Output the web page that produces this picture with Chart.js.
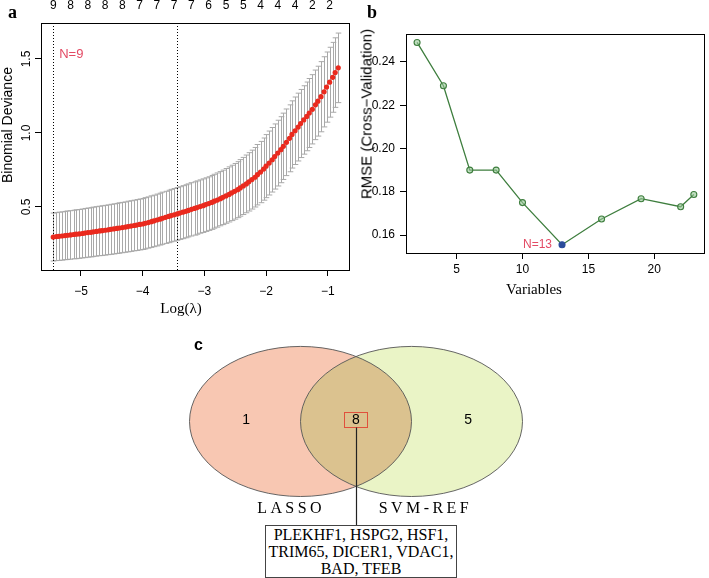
<!DOCTYPE html>
<html>
<head>
<meta charset="utf-8">
<script src="https://cdn.jsdelivr.net/npm/chart.js@4.4.1/dist/chart.umd.min.js"></script>
<style>
  html,body{margin:0;padding:0;background:#fff;}
  #wrap{position:relative;width:709px;height:578px;overflow:hidden;background:#fff;}
  canvas{position:absolute;}
  .t{position:absolute;white-space:nowrap;color:#000;}
  .sans{font-family:"Liberation Sans",Arial,sans-serif;}
  .serif{font-family:"Liberation Serif","Times New Roman",serif;}
</style>
</head>
<body>
<div id="wrap">
  <canvas id="ca" width="356" height="320" style="left:0;top:0"></canvas>
  <canvas id="cb" width="349" height="320" style="left:360px;top:0"></canvas>
  <canvas id="cc" width="444" height="258" style="left:134px;top:320px"></canvas>

  <div class="t serif" style="left:8px;top:3px;font-size:18px;line-height:18px;font-weight:bold">a</div>
  <div class="t serif" style="left:367px;top:3px;font-size:18px;line-height:18px;font-weight:bold">b</div>
  <div class="t sans" style="left:194px;top:337px;font-size:16px;line-height:16px;font-weight:bold">c</div>

  <div class="t sans" style="left:7px;top:125px;font-size:14px;transform:translate(-50%,-50%) rotate(-90deg)">Binomial Deviance</div>
  <div class="t serif" style="left:181px;top:308px;font-size:15px;transform:translate(-50%,-50%)">Log(λ)</div>
  <div class="t sans" style="left:366px;top:114px;font-size:15px;transform:translate(-50%,-50%) rotate(-90deg)">RMSE (Cross−Validation)</div>
  <div class="t serif" style="left:534px;top:289px;font-size:15px;transform:translate(-50%,-50%)">Variables</div>

  <div id="genebox" class="serif" style="position:absolute;left:265px;top:525px;width:192px;height:53px;box-sizing:border-box;border:1px solid #444;background:#fff;font-size:16px;line-height:17px;text-align:center;color:#000;"></div>
</div>
<script>
// ---------------- Panel a: LASSO cross-validation ----------------
const aLogLambda = [-5.45,-5.40,-5.36,-5.31,-5.26,-5.22,-5.17,-5.12,-5.08,-5.03,
  -4.98,-4.94,-4.89,-4.84,-4.80,-4.75,-4.70,-4.66,-4.61,-4.56,
  -4.52,-4.47,-4.42,-4.38,-4.33,-4.28,-4.24,-4.19,-4.14,-4.10,
  -4.05,-4.00,-3.96,-3.91,-3.86,-3.82,-3.77,-3.72,-3.68,-3.63,
  -3.58,-3.54,-3.49,-3.44,-3.40,-3.35,-3.30,-3.26,-3.21,-3.16,
  -3.12,-3.07,-3.02,-2.98,-2.93,-2.88,-2.84,-2.79,-2.74,-2.70,
  -2.65,-2.60,-2.56,-2.51,-2.46,-2.42,-2.37,-2.32,-2.28,-2.23,
  -2.18,-2.14,-2.09,-2.04,-2.00,-1.95,-1.90,-1.86,-1.81,-1.76,
  -1.72,-1.67,-1.62,-1.58,-1.53,-1.48,-1.44,-1.39,-1.34,-1.30,
  -1.25,-1.20,-1.16,-1.11,-1.06,-1.02,-0.97,-0.92,-0.88,-0.83];
const aCvMean = [0.297,0.300,0.302,0.304,0.307,0.309,0.311,0.314,0.316,0.318,
  0.321,0.324,0.327,0.329,0.332,0.335,0.338,0.340,0.343,0.346,
  0.349,0.352,0.355,0.358,0.361,0.364,0.368,0.371,0.375,0.378,
  0.382,0.385,0.390,0.395,0.401,0.406,0.412,0.418,0.424,0.430,
  0.436,0.442,0.447,0.453,0.459,0.465,0.471,0.477,0.484,0.490,
  0.496,0.503,0.509,0.516,0.523,0.531,0.539,0.547,0.556,0.565,
  0.575,0.585,0.595,0.606,0.617,0.629,0.642,0.656,0.670,0.685,
  0.701,0.718,0.736,0.756,0.776,0.797,0.819,0.841,0.864,0.887,
  0.910,0.937,0.964,0.990,1.015,1.040,1.064,1.088,1.112,1.135,
  1.160,1.190,1.215,1.245,1.278,1.310,1.343,1.376,1.408,1.440];
const aCvSd = [0.162,0.162,0.163,0.163,0.163,0.164,0.164,0.164,0.165,0.165,
  0.165,0.166,0.166,0.166,0.167,0.167,0.167,0.168,0.168,0.168,
  0.169,0.169,0.169,0.170,0.170,0.170,0.171,0.171,0.171,0.172,
  0.172,0.172,0.173,0.173,0.174,0.174,0.175,0.175,0.176,0.176,
  0.177,0.177,0.178,0.178,0.178,0.179,0.179,0.179,0.180,0.180,
  0.180,0.180,0.181,0.181,0.181,0.182,0.182,0.183,0.183,0.184,
  0.185,0.186,0.187,0.188,0.189,0.191,0.193,0.195,0.197,0.199,
  0.201,0.204,0.207,0.210,0.213,0.216,0.218,0.220,0.222,0.223,
  0.224,0.225,0.226,0.227,0.228,0.229,0.230,0.231,0.232,0.233,
  0.234,0.235,0.236,0.237,0.237,0.237,0.236,0.236,0.235,0.235];
const aTopPos = [-5.45,-5.17,-4.89,-4.61,-4.33,-4.05,-3.77,-3.49,-3.21,-2.93,-2.65,-2.37,-2.09,-1.81,-1.53,-1.25,-0.97];
const aTopLabels = ['9','8','8','8','8','7','7','7','7','6','5','5','4','4','4','2','2'];
const aXTicks = [-5,-4,-3,-2,-1];
const aYTicks = [0.5,1.0,1.5];
const aLambdaLines = [-5.45,-3.44];
const aNLabel = 'N=9';

// ---------------- Panel b: SVM-RFE ----------------
const bVars = [2,4,6,8,10,13,16,19,22,23];
const bRmse = [0.249,0.229,0.190,0.190,0.175,0.1555,0.1674,0.1768,0.1731,0.1787];
const bXTicks = [5,10,15,20];
const bYTicks = [0.16,0.18,0.20,0.22,0.24];
const bBest = 13;
const bNLabel = 'N=13';

// ---------------- Panel c: Venn ----------------
const vennSets = ['LASSO','SVM-REF'];
const vennCounts = [1,8,5];   // LASSO only, both, SVM-REF only
const vennGenes = ['PLEKHF1','HSPG2','HSF1','TRIM65','DICER1','VDAC1','BAD','TFEB'];

const SANS = '"Liberation Sans", Arial, sans-serif';
const SERIF = '"Liberation Serif", "Times New Roman", serif';
Chart.defaults.font.family = SANS;
Chart.defaults.color = '#000';

const minus = v => String(v).replace('-', '\u2212');

// ---- Panel a plugin ----
const aPlugin = {
  id: 'aPlugin',
  beforeDatasetsDraw(chart) {
    const {ctx, chartArea: ca, scales: {x, y}} = chart;
    ctx.save();
    ctx.beginPath(); ctx.rect(ca.left, ca.top, ca.right - ca.left, ca.bottom - ca.top); ctx.clip();
    ctx.strokeStyle = '#A9A9A9';
    ctx.lineWidth = 1;
    const cap = 2.8;
    aLogLambda.forEach((lv, i) => {
      const px = Math.round(x.getPixelForValue(lv)) + 0.5;
      const pu = y.getPixelForValue(aCvMean[i] + aCvSd[i]);
      const pl = y.getPixelForValue(aCvMean[i] - aCvSd[i]);
      ctx.beginPath();
      ctx.moveTo(px, pu); ctx.lineTo(px, pl);
      ctx.moveTo(px - cap, pu); ctx.lineTo(px + cap, pu);
      ctx.moveTo(px - cap, pl); ctx.lineTo(px + cap, pl);
      ctx.stroke();
    });
    ctx.strokeStyle = '#000';
    ctx.setLineDash([1, 2]);
    aLambdaLines.forEach(lv => {
      const px = Math.round(x.getPixelForValue(lv)) + 0.5;
      ctx.beginPath(); ctx.moveTo(px, ca.top); ctx.lineTo(px, ca.bottom); ctx.stroke();
    });
    ctx.restore();
  },
  afterDraw(chart) {
    const {ctx, chartArea: ca, scales: {x, y}} = chart;
    ctx.save();
    ctx.strokeStyle = '#000'; ctx.lineWidth = 1;
    ctx.strokeRect(Math.round(ca.left) + 0.5, Math.round(ca.top) + 0.5, Math.round(ca.right - ca.left), Math.round(ca.bottom - ca.top));
    // rotated y tick labels
    ctx.fillStyle = '#000';
    ctx.font = '12px ' + SANS;
    ctx.textAlign = 'center'; ctx.textBaseline = 'middle';
    aYTicks.forEach(v => {
      const py = y.getPixelForValue(v);
      ctx.save();
      ctx.translate(ca.left - 14, py);
      ctx.rotate(-Math.PI / 2);
      ctx.fillText(v.toFixed(1), 0, 0);
      ctx.restore();
    });
    // N label
    ctx.fillStyle = '#E34A64';
    ctx.font = '13px ' + SANS;
    ctx.textAlign = 'left';
    ctx.fillText(aNLabel, x.getPixelForValue(aLambdaLines[0]) + 6, y.getPixelForValue(1.53));
    ctx.restore();
  }
};

new Chart(document.getElementById('ca'), {
  type: 'scatter',
  data: {
    datasets: [{
      data: aLogLambda.map((v, i) => ({x: v, y: aCvMean[i]})),
      pointRadius: 2.6, pointHoverRadius: 2.6,
      pointBackgroundColor: '#EA2A1E', pointBorderWidth: 0, borderWidth: 0
    }]
  },
  options: {
    responsive: false, animation: false, events: [],
    layout: {padding: {left: 0, right: 7, top: 0, bottom: 0}},
    plugins: {legend: {display: false}, tooltip: {enabled: false}},
    scales: {
      x: {
        type: 'linear', position: 'bottom', min: -5.648, max: -0.656,
        afterBuildTicks: s => { s.ticks = aXTicks.map(v => ({value: v})); },
        afterFit: s => { s.height = 50; },
        ticks: {padding: 8, font: {size: 12}, color: '#000', maxRotation: 0, autoSkip: false, callback: v => minus(v)},
        grid: {drawOnChartArea: false, drawTicks: true, tickLength: 6, tickColor: '#000', tickWidth: 1},
        border: {display: true, color: '#000', width: 1}
      },
      xTop: {
        type: 'linear', position: 'top', min: -5.648, max: -0.656,
        afterBuildTicks: s => { s.ticks = aTopPos.map(v => ({value: v})); },
        afterFit: s => { s.height = 23; },
        ticks: {padding: 2, font: {size: 12}, color: '#000', maxRotation: 0, autoSkip: false, callback: (v, i) => aTopLabels[i]},
        grid: {display: false},
        border: {display: false}
      },
      y: {
        type: 'linear', position: 'left', min: 0.0743, max: 1.743,
        afterBuildTicks: s => { s.ticks = aYTicks.map(v => ({value: v})); },
        afterFit: s => { s.width = 41; },
        ticks: {display: false},
        grid: {drawOnChartArea: false, drawTicks: true, tickLength: 6, tickColor: '#000', tickWidth: 1},
        border: {display: true, color: '#000', width: 1}
      }
    }
  },
  plugins: [aPlugin]
});

// ---- Panel b ----
const bPlugin = {
  id: 'bPlugin',
  afterDraw(chart) {
    const {ctx, chartArea: ca, scales: {x, y}} = chart;
    ctx.save();
    ctx.strokeStyle = '#000'; ctx.lineWidth = 1;
    ctx.strokeRect(Math.round(ca.left) + 0.5, Math.round(ca.top) + 0.5, Math.round(ca.right - ca.left) - 1, Math.round(ca.bottom - ca.top));
    const bi = bVars.indexOf(bBest);
    ctx.fillStyle = '#E34A64';
    ctx.font = '12px ' + SANS;
    ctx.textAlign = 'right'; ctx.textBaseline = 'middle';
    ctx.fillText(bNLabel, x.getPixelForValue(bVars[bi]) - 10, y.getPixelForValue(bRmse[bi]));
    ctx.restore();
  }
};

new Chart(document.getElementById('cb'), {
  type: 'line',
  data: {
    datasets: [{
      data: bVars.map((v, i) => ({x: v, y: bRmse[i]})),
      borderColor: '#3E7E3E', borderWidth: 1.3, tension: 0, fill: false,
      pointRadius: 3, pointHoverRadius: 3, pointBorderWidth: 1.1,
      pointBorderColor: c => bVars[c.dataIndex] === bBest ? '#2B4C9B' : '#3E7E3E',
      pointBackgroundColor: c => bVars[c.dataIndex] === bBest ? '#2B4C9B' : 'rgba(150,200,150,0.6)'
    }]
  },
  options: {
    responsive: false, animation: false, events: [],
    layout: {padding: {left: 0, right: 1, top: 34, bottom: 0}},
    plugins: {legend: {display: false}, tooltip: {enabled: false}},
    scales: {
      x: {
        type: 'linear', position: 'bottom', min: 1.16, max: 23.84,
        afterBuildTicks: s => { s.ticks = bXTicks.map(v => ({value: v})); },
        afterFit: s => { s.height = 67; },
        ticks: {padding: 3, font: {size: 12}, color: '#000', maxRotation: 0, autoSkip: false},
        grid: {drawOnChartArea: false, drawTicks: true, tickLength: 6, tickColor: '#000'},
        border: {display: true, color: '#000'}
      },
      y: {
        type: 'linear', position: 'left', min: 0.1517, max: 0.2529,
        afterBuildTicks: s => { s.ticks = bYTicks.map(v => ({value: v})); },
        afterFit: s => { s.width = 46; },
        ticks: {padding: 5, font: {size: 12}, color: '#000', callback: v => v.toFixed(2)},
        grid: {drawOnChartArea: false, drawTicks: true, tickLength: 6, tickColor: '#000'},
        border: {display: true, color: '#000'}
      }
    }
  },
  plugins: [bPlugin]
});

// ---- Panel c: Venn ----
const vennCx = [-0.5, 0.5];
const vennRx = 1.0, vennRy = 0.676;
const vennPlugin = {
  id: 'venn',
  afterDraw(chart) {
    const {ctx, scales: {x, y}} = chart;
    const px = v => x.getPixelForValue(v), py = v => y.getPixelForValue(v);
    const rxp = px(vennRx) - px(0), ryp = py(0) - py(vennRy);
    const path = i => { ctx.beginPath(); ctx.ellipse(px(vennCx[i]), py(0), rxp, ryp, 0, 0, Math.PI * 2); };
    ctx.save();
    path(0); ctx.fillStyle = '#F8C7B2'; ctx.fill();
    path(1); ctx.fillStyle = '#EAF4C6'; ctx.fill();
    ctx.save(); path(0); ctx.clip(); path(1); ctx.fillStyle = '#DBC28F'; ctx.fill(); ctx.restore();
    ctx.strokeStyle = '#555'; ctx.lineWidth = 0.9;
    path(0); ctx.stroke(); path(1); ctx.stroke();
    // counts
    ctx.fillStyle = '#000';
    ctx.font = '14px ' + SANS;
    ctx.textAlign = 'center'; ctx.textBaseline = 'middle';
    const cy = py(0.01);
    ctx.fillText(String(vennCounts[0]), px(-0.99), cy);
    ctx.fillText(String(vennCounts[1]), px(0.0), cy);
    ctx.fillText(String(vennCounts[2]), px(1.01), cy);
    // red box around shared count
    ctx.strokeStyle = '#E0503C'; ctx.lineWidth = 1;
    const bx = Math.round(px(0.0)) - 11.5, by = Math.round(cy) - 7.5;
    ctx.strokeRect(bx, by, 23, 15);
    // connector
    ctx.strokeStyle = '#222'; ctx.lineWidth = 1.2;
    ctx.beginPath(); ctx.moveTo(Math.round(px(0.0)) + 0.5, by + 15); ctx.lineTo(Math.round(px(0.0)) + 0.5, py(-0.935)); ctx.stroke();
    // set labels
    ctx.font = '16px ' + SERIF;
    try { ctx.letterSpacing = '3.4px'; } catch (e) {}
    ctx.fillText(vennSets[0], px(-0.585), py(-0.79));
    ctx.fillText(vennSets[1], px(0.625), py(-0.79));
    ctx.restore();
  }
};

new Chart(document.getElementById('cc'), {
  type: 'scatter',
  data: {datasets: []},
  options: {
    responsive: false, animation: false, events: [],
    layout: {padding: 0},
    plugins: {legend: {display: false}, tooltip: {enabled: false}},
    scales: {
      x: {type: 'linear', display: false, min: -2, max: 2},
      y: {type: 'linear', display: false, min: -1.41, max: 0.914}
    }
  },
  plugins: [vennPlugin]
});

// gene list box
const geneLines = [
  vennGenes.slice(0, 3).join(', ') + ',',
  vennGenes.slice(3, 6).join(', ') + ',',
  vennGenes.slice(6).join(', ')
];
const gb = document.getElementById('genebox');
geneLines.forEach(t => { const d = document.createElement('div'); d.textContent = t; gb.appendChild(d); });
</script>
</body>
</html>
